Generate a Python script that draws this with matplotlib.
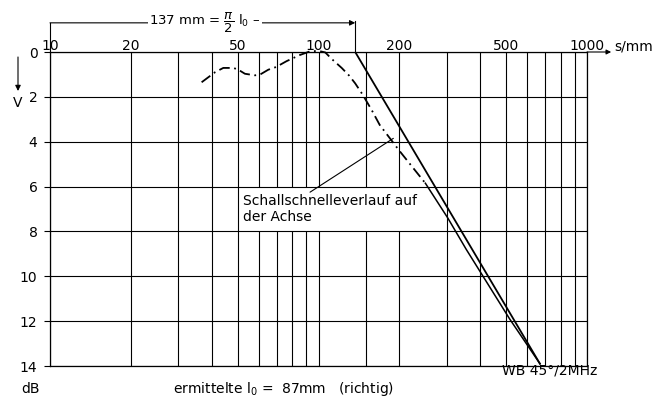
import matplotlib.pyplot as plt
from matplotlib.ticker import NullLocator

plt.rcParams['font.family'] = ['DejaVu Sans']

# grid and tick values
x_grid = [10, 20, 30, 40, 50, 60, 70, 80, 90, 100, 150,
          200, 300, 400, 500, 600, 700, 800, 900, 1000]
x_labels = [10, 20, 50, 100, 200, 500, 1000]
y_ticks = [0, 2, 4, 6, 8, 10, 12, 14]

# Schallschnelle on the axis (dash-dot part)
s_axis = [36.7, 41.2, 44.2, 48.2, 50.3, 53.2, 58, 60.5, 65, 69.5, 76, 85,
          93, 100, 106, 112, 122, 130, 137, 146, 158, 169, 200, 250]
v_axis = [1.35, 0.9, 0.71, 0.71, 0.79, 0.97, 1.04, 1.01, 0.79, 0.67, 0.41,
          0.14, -0.03, -0.05, 0.02, 0.31, 0.71, 1.05, 1.4, 1.9, 2.6, 3.25,
          4.4, 5.85]
# continuation (solid)
s_tail = [250, 303, 355, 515, 668]
v_tail = [5.85, 7.4, 8.8, 11.9, 13.9]

# far field straight line
s_far = [137, 668]
v_far = [0, 13.9]

half_l0 = 137      # mm, pi/2 * l0
leader_from = (93, 6.25)
leader_to = (190, 3.85)
label_box_s = [51, 260]

fig = plt.figure(figsize=(6.56, 3.98), dpi=100)
ax = fig.add_axes([50 / 656, 1 - 366 / 398, 537 / 656, 314 / 398])
ax.set_xscale('log')
ax.set_xlim(10, 1000)
ax.set_ylim(14, 0)

ax.vlines(x_grid, 0, 14, colors='k', lw=0.8, zorder=1)
ax.hlines(y_ticks, 10, 1000, colors='k', lw=0.8, zorder=3)

for sp in ax.spines.values():
    sp.set_linewidth(0.9)

ax.xaxis.tick_top()
ax.set_xticks(x_labels)
ax.set_xticklabels([str(v) for v in x_labels])
ax.xaxis.set_minor_locator(NullLocator())
ax.tick_params(axis='x', length=0, pad=-1, labelsize=10)
ax.set_yticks(y_ticks)
ax.tick_params(axis='y', length=4, width=0.8, direction='out', pad=5, labelsize=10)

# curves
ax.plot(s_far, v_far, color='k', lw=1.3, zorder=4)
ax.plot(s_axis, v_axis, color='k', lw=1.3, ls=(0, (6, 2.5, 1, 2.5)),
        zorder=4, clip_on=False)
ax.plot(s_tail, v_tail, color='k', lw=1.1, zorder=4)

# label with white background between grid lines 6 and 8
ax.fill_between(label_box_s, 6, 8, color='white', lw=0, zorder=2)
ax.text(52.5, 6.35, 'Schallschnelleverlauf auf\nder Achse', fontsize=10,
        va='top', ha='left', linespacing=1.1, zorder=2.5)
ax.annotate('', xy=leader_to, xytext=leader_from,
            arrowprops=dict(arrowstyle='-', color='k', lw=0.8,
                            shrinkA=0, shrinkB=0), zorder=5)

# bracket 137 mm = pi/2 l0
yb = -1.3
ax.annotate('', xy=(half_l0, yb), xytext=(10, yb), annotation_clip=False,
            arrowprops=dict(arrowstyle='-|>', color='k', lw=0.8,
                            shrinkA=0, shrinkB=0, mutation_scale=8))
ax.plot([10, 10], [yb, 0], color='k', lw=0.8, clip_on=False)
ax.plot([half_l0, half_l0], [yb - 0.1, 0], color='k', lw=0.8, clip_on=False)
ax.text(37.8, yb, r'137 mm = $\dfrac{\pi}{2}$ l$_0$ –', fontsize=9.5,
        ha='center', va='center', zorder=6,
        bbox=dict(boxstyle='square,pad=0.1', fc='white', ec='none'))

# s/mm arrow on top axis
ax.annotate('', xy=(1.045, 1), xycoords='axes fraction', xytext=(1, 1),
            arrowprops=dict(arrowstyle='-|>', color='k', lw=0.8,
                            shrinkA=0, shrinkB=0, mutation_scale=7))
ax.text(1.05, 1.016, 's/mm', transform=ax.transAxes, fontsize=10,
        ha='left', va='center')

# V arrow and unit
fig.text(18 / 656, 1 - 103 / 398, 'V', fontsize=10, ha='center', va='center')
fig.text(30 / 656, 1 - 389 / 398, 'dB', fontsize=10, ha='center', va='center')
ax.annotate('', xy=(18 / 656, 1 - 91 / 398), xycoords='figure fraction',
            xytext=(18 / 656, 1 - 57 / 398), textcoords='figure fraction',
            arrowprops=dict(arrowstyle='-|>', color='k', lw=0.8,
                            shrinkA=0, shrinkB=0, mutation_scale=8))

fig.text(502 / 656, 1 - 371 / 398, 'WB 45°/2MHz', fontsize=10,
         ha='left', va='center')
fig.text(173 / 656, 1 - 389 / 398, 'ermittelte l$_0$ =  87mm   (richtig)',
         fontsize=10, ha='left', va='center')

fig.savefig('out.png', dpi=100)
